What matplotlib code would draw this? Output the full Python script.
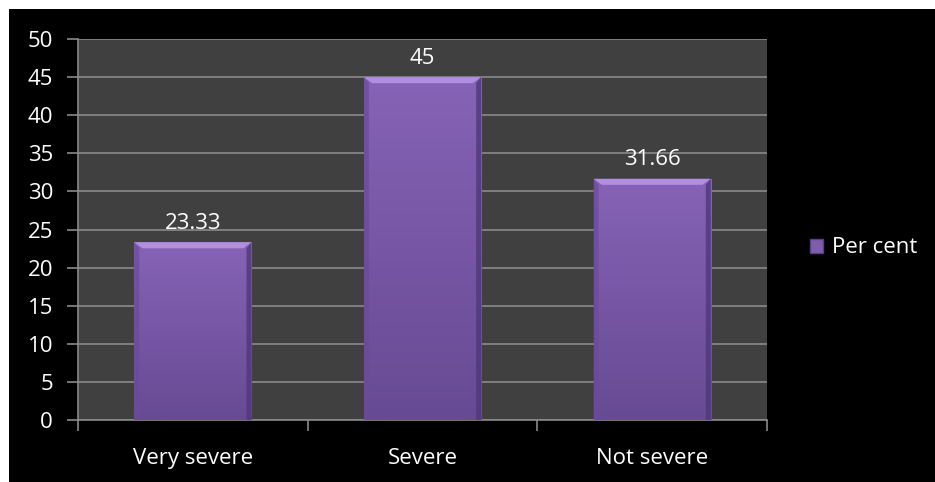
import matplotlib
matplotlib.use("Agg")
import matplotlib.pyplot as plt
import numpy as np
from matplotlib.patches import Rectangle, Polygon
from matplotlib.colors import LinearSegmentedColormap

categories = ["Very severe", "Severe", "Not severe"]
values = [23.33, 45, 31.66]
labels = ["23.33", "45", "31.66"]
series_name = "Per cent"
yticks = [0, 5, 10, 15, 20, 25, 30, 35, 40, 45, 50]

W, H = 935, 482
fig = plt.figure(figsize=(W / 100, H / 100), dpi=100)
fig.patch.set_facecolor("white")
fig.patches.append(Rectangle((9 / W, 0), 1 - 9 / W, 1 - 9 / H, transform=fig.transFigure,
                             facecolor="black", edgecolor="none", zorder=-10))

font = ["Open Sans", "DejaVu Sans"]
plt.rcParams["font.family"] = font
FS = 16

x0, x1 = 78, 767
y0, y1 = 39, 420
ax = fig.add_axes([x0 / W, 1 - y1 / H, (x1 - x0) / W, (y1 - y0) / H])
ax.set_facecolor("#404040")

x = np.arange(len(categories))
bars = ax.bar(x, values, width=0.51, color="#7E5DAE", edgecolor="#5A4080", linewidth=0.8,
              zorder=3, label=series_name)

grad = np.linspace(0, 1, 256).reshape(-1, 1)
cmap = LinearSegmentedColormap.from_list("pg", ["#674A94", "#8663B6"])
for b in bars:
    bx, bw, bh = b.get_x(), b.get_width(), b.get_height()
    im = ax.imshow(grad, extent=[bx, bx + bw, 0, bh], origin="lower", cmap=cmap,
                   aspect="auto", zorder=3.5)
    im.set_clip_path(b)
    dy = 0.8
    dx = bw * 0.07
    top = Polygon([[bx, bh], [bx + bw, bh], [bx + bw - dx, bh - dy], [bx + dx, bh - dy]],
                  closed=True, facecolor="#B08EE0", edgecolor="none", zorder=4)
    ax.add_patch(top)
    left = Polygon([[bx, 0], [bx, bh], [bx + dx * 0.6, bh - dy], [bx + dx * 0.6, 0]],
                   closed=True, facecolor="#6A4B98", edgecolor="none", zorder=4, alpha=0.7)
    ax.add_patch(left)
    right = Polygon([[bx + bw, 0], [bx + bw, bh], [bx + bw - dx * 0.6, bh - dy], [bx + bw - dx * 0.6, 0]],
                    closed=True, facecolor="#4E3878", edgecolor="none", zorder=4, alpha=0.8)
    ax.add_patch(right)

for xi, v, lab in zip(x, values, labels):
    ax.annotate(lab, (xi, v), xytext=(0, 6), textcoords="offset points", ha="center",
                va="bottom", color="white", fontsize=FS, zorder=5)

ax.set_xlim(-0.5, len(categories) - 0.5)
ax.set_ylim(0, 50)
ax.set_yticks(yticks)
ax.set_yticklabels([str(t) for t in yticks])
ax.yaxis.grid(True, color="#8A8A8A", linewidth=1.2, zorder=1)
ax.set_axisbelow(True)

ax.set_xticks(x)
ax.set_xticklabels(categories)
ax.set_xticks(np.arange(-0.5, len(categories), 1), minor=True)
ax.tick_params(axis="x", which="major", length=0, pad=20, labelcolor="white", labelsize=FS)
ax.tick_params(axis="x", which="minor", length=8, color="#8A8A8A", width=1.2)
ax.tick_params(axis="y", length=8, color="#8A8A8A", width=1.2, labelcolor="white", labelsize=FS, pad=10)

for s in ["top", "right"]:
    ax.spines[s].set_visible(False)
for s in ["left", "bottom"]:
    ax.spines[s].set_color("#8A8A8A")
    ax.spines[s].set_linewidth(1.2)

leg = fig.legend(handles=[Rectangle((0, 0), 1, 1, facecolor="#7E5DAE", edgecolor="#5A4080")],
                 labels=[series_name], loc="center left", bbox_to_anchor=(790 / W, 1 - 248 / H),
                 frameon=False, fontsize=FS, labelcolor="white", handlelength=0.6,
                 handleheight=0.6, handletextpad=0.4)

fig.savefig("out.png", dpi=100, facecolor=fig.get_facecolor())
